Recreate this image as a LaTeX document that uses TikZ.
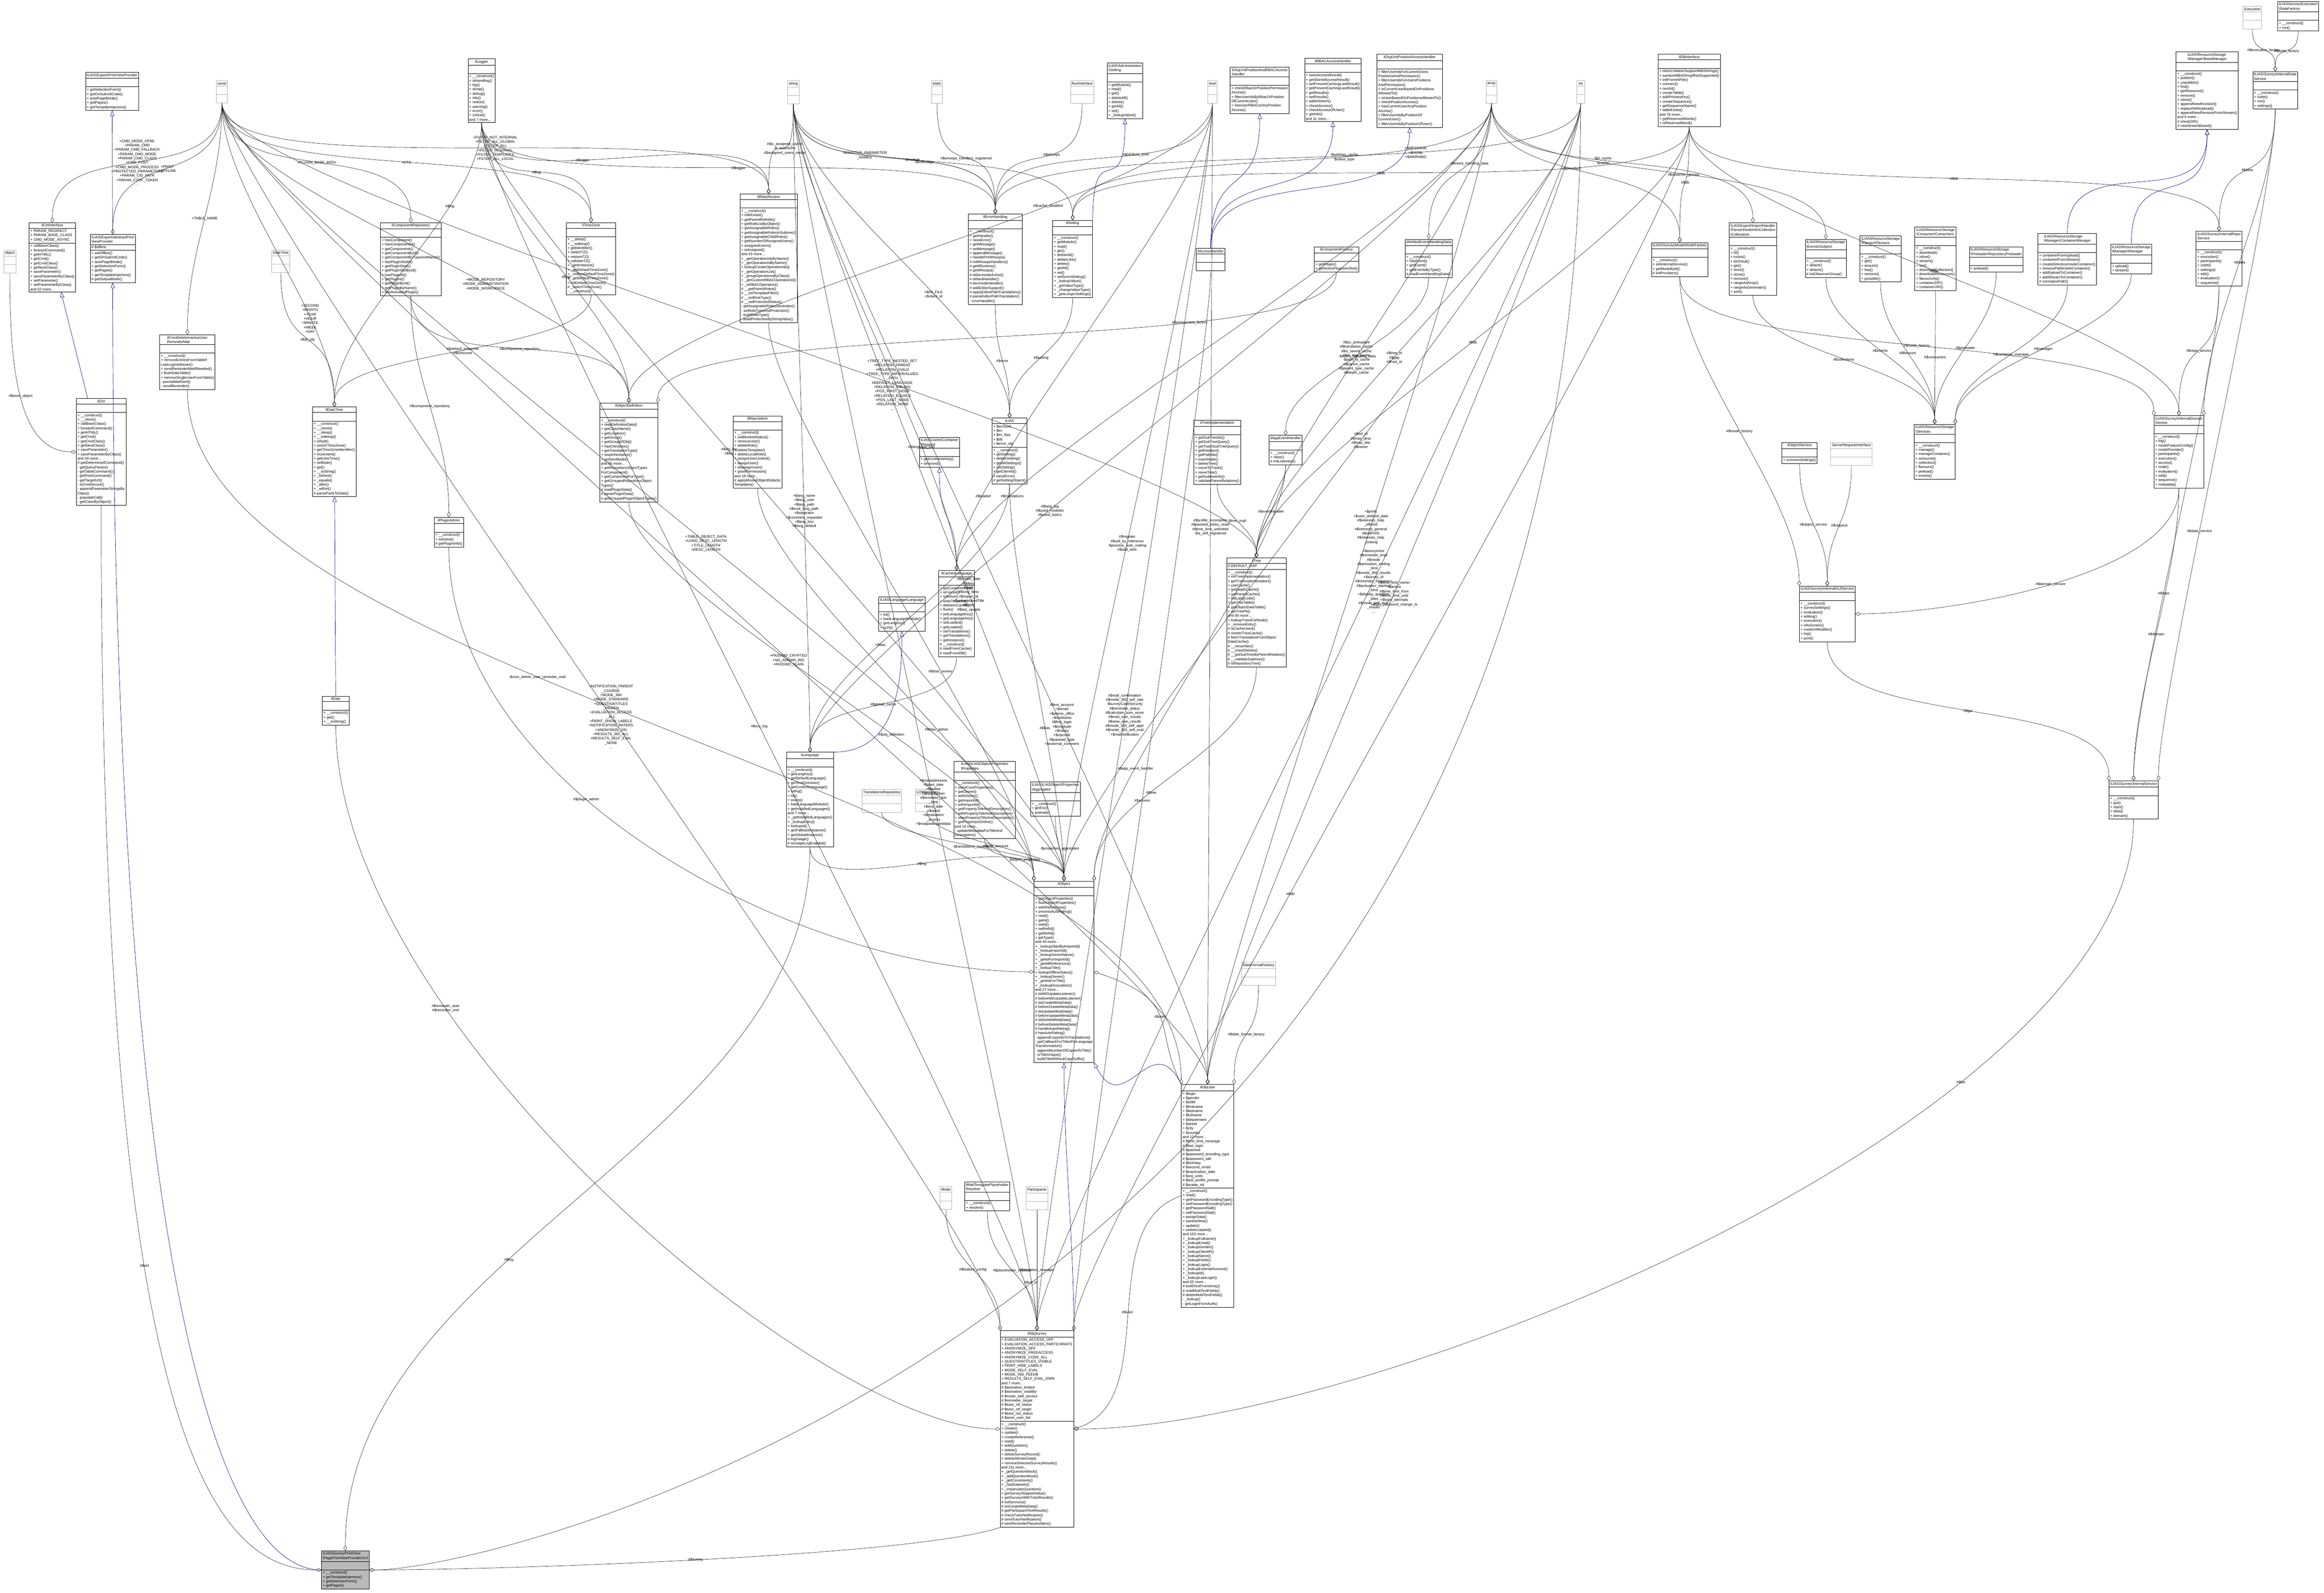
\documentclass[tikz,border=0pt]{standalone}
\usepackage{fontspec}
\setmainfont{Liberation Sans}
\usepackage{tikz}
\usetikzlibrary{shapes.multipart}
\usetikzlibrary{arrows.meta}
\newcommand{\bs}{\textbackslash{}}
\newcommand{\dxfont}{\fontsize{3.5}{4.15}\selectfont}
\tikzset{every text node part/.style={font=\dxfont}, every two node part/.style={font=\dxfont}, every three node part/.style={font=\dxfont}}
\tikzstyle{cls} = [rectangle split, rectangle split parts=3, draw, line width=0.35pt, anchor=north, align=left, inner sep=1.2pt, font=\dxfont, rectangle split part align={center,left,left}, rectangle split empty part height=2.5pt, fill=white]
\tikzstyle{ext} = [cls, draw=gray!60]
\tikzstyle{uses} = [draw=black!85, line width=0.3pt, -{Diamond[open,length=5pt,width=3.5pt]}]
\tikzstyle{inh} = [draw=blue!50!black, line width=0.3pt, {Triangle[open,length=5pt,width=4pt]}-]
\tikzstyle{lbl} = [align=center, inner sep=0.5pt, font=\dxfont]

\begin{document}
\begin{tikzpicture}
  \useasboundingbox (0,0) rectangle (78.13,-53.56);

  % top row: plain types
  \node[ext] (constT) at (7.46,-2.71) {const \nodepart{two} \nodepart{three}};
  \node[ext] (string) at (26.67,-2.71) {string \nodepart{two} \nodepart{three}};
  \node[ext] (static) at (31.50,-2.71) {static \nodepart{two} \nodepart{three}};
  \node[ext] (runIf) at (36.38,-2.71) {RunInterface \nodepart{two} \nodepart{three}};
  \node[ext] (boolT) at (40.76,-2.71) {bool \nodepart{two} \nodepart{three}};
  \node[ext] (arrayT) at (50.14,-2.71) {array \nodepart{two} \nodepart{three}};
  \node[ext] (intT) at (53.14,-2.71) {int \nodepart{two} \nodepart{three}};
  \node[ext] (execT) at (75.72,-0.21) {Execution \nodepart{two} \nodepart{three}};
  \node[ext] (objectT) at (0.33,-8.40) {object \nodepart{two} \nodepart{three}};
  \node[ext] (dateTimeT) at (9.44,-8.40) {DateTime \nodepart{two} \nodepart{three}};

  % top row: classes
  \node[cls] (printProv) at (3.77,-2.42) {ILIAS\bs Export\bs PrintViewProvider \nodepart{two} \nodepart{three} + getSelectionForm()\\+ getOnSubmitCode()\\+ autoPageBreak()\\+ getPages()\\+ getTemplateInjectors()};
  \node[cls] (logger) at (16.19,-1.97) {ilLogger \nodepart{two} \nodepart{three} + \_\_construct()\\+ isHandling()\\+ log()\\+ dump()\\+ debug()\\+ info()\\+ notice()\\+ warning()\\+ error()\\+ critical()\\and 7 more...};
  \node[cls] (admSetting) at (37.82,-2.11) {ILIAS\bs Administration\\\bs Setting \nodepart{two} \nodepart{three} + getModule()\\+ read()\\+ get()\\+ deleteAll()\\+ delete()\\+ getAll()\\+ set()\\+ \_lookupValue()};
  \node[cls] (orgRbac) at (42.35,-2.25) {ilOrgUnitPositionAndRBACAccess\\Handler \nodepart{two} \nodepart{three} + checkRbacOrPositionPermission\\Access()\\+ filterUserIdsByRbacOrPosition\\OfCurrentUser()\\+ hasUserRBACorAnyPosition\\Access()};
  \node[cls] (rbacAcc) at (44.81,-1.96) {ilRBACAccessHandler \nodepart{two} \nodepart{three} + storeAccessResult()\\+ getStoredAccessResult()\\+ setPreventCachingLastResult()\\+ getPreventCachingLastResult()\\+ getResults()\\+ setResults()\\+ addInfoItem()\\+ checkAccess()\\+ checkAccessOfUser()\\+ getInfo()\\and 11 more...};
  \node[cls] (orgAcc) at (47.39,-1.82) {ilOrgUnitPositionAccessHandler \nodepart{two} \nodepart{three} + filterUserIdsForCurrentUsers\\PositionsAndPermission()\\+ filterUserIdsForUsersPositions\\AndPermission()\\+ isCurrentUserBasedOnPositions\\AllowedTo()\\+ isUserBasedOnPositionsAllowedTo()\\+ checkPositionAccess()\\+ hasCurrentUserAnyPosition\\Access()\\+ filterUserIdsByPositionOf\\CurrentUser()\\+ filterUserIdsByPositionOfUser()};
  \node[cls] (dbIf) at (56.79,-1.82) {ilDBInterface \nodepart{two} \nodepart{three} + doesCollationSupportMB4Strings()\\+ sanitizeMB4StringIfNotSupported()\\+ initFromIniFile()\\+ connect()\\+ nextId()\\+ createTable()\\+ addPrimaryKey()\\+ createSequence()\\+ getSequenceName()\\+ tableExists()\\and 78 more...\\+ getReservedWords()\\+ isReservedWord()};
  \node[cls] (baseMgr) at (74.20,-1.74) {ILIAS\bs ResourceStorage\\\bs Manager\bs BaseManager \nodepart{two} \nodepart{three} + \_\_construct()\\+ publish()\\+ unpublish()\\+ find()\\+ getResource()\\+ remove()\\+ clone()\\+ appendNewRevision()\\+ replaceWithUpload()\\+ appendNewRevisionFromStream()\\and 6 more...\\\# checkZIP()\\\# newStreamBased()};
  \node[cls] (dataFac) at (77.26,-0.04) {ILIAS\bs Survey\bs Execution\\\bs DataFactory \nodepart{two} \nodepart{three} + \_\_construct()\\+ run()};
  \node[cls] (dataSrv) at (76.49,-2.40) {ILIAS\bs Survey\bs InternalData\\Service \nodepart{two} \nodepart{three} + \_\_construct()\\+ code()\\+ run()\\+ settings()};

  % second row
  \node[cls] (ctrlIf) at (1.76,-7.48) {ilCtrlInterface \nodepart{two} + PARAM\_REDIRECT\\+ PARAM\_BASE\_CLASS\\+ CMD\_MODE\_ASYNC \nodepart{three} + callBaseClass()\\+ forwardCommand()\\+ getHTML()\\+ getCmd()\\+ getCmdClass()\\+ getNextClass()\\+ saveParameter()\\+ saveParameterByClass()\\+ setParameter()\\+ setParameterByClass()\\and 52 more...};
  \node[cls] (absPrint) at (3.79,-7.88) {ILIAS\bs Export\bs AbstractPrint\\ViewProvider \nodepart{two} \# \$offline \nodepart{three} + setOffline()\\+ getOnSubmitCode()\\+ autoPageBreak()\\+ getSelectionForm()\\+ getPages()\\+ getTemplateInjectors()\\\# getOutputMode()};
  \node[cls] (compRepo) at (13.81,-7.48) {ilComponentRepository \nodepart{two} \nodepart{three} + hasComponent()\\+ hasComponentId()\\+ getComponents()\\+ getComponentById()\\+ getComponentByTypeAndName()\\+ hasPluginSlotId()\\+ getPluginSlots()\\+ getPluginSlotById()\\+ hasPluginId()\\+ getPlugins()\\+ getPluginById()\\+ getPluginByName()\\+ hasActivatedPlugin()};
  \node[cls] (timeZone) at (19.87,-7.48) {ilTimeZone \nodepart{two} \nodepart{three} + \_\_sleep()\\+ \_\_wakeup()\\+ getIdentifier()\\+ switchTZ()\\+ restoreTZ()\\+ validateTZ()\\+ \_getInstance()\\+ \_setDefaultTimeZone()\\+ \_restoreDefaultTimeZone()\\+ \_getDefaultTimeZone()\\+ initDefaultTimeZone()\\\# \_switchTimeZone()\\- \_\_construct()};
  \node[cls] (rbacReview) at (25.84,-6.52) {ilRbacReview \nodepart{two} \nodepart{three} + \_\_construct()\\+ roleExists()\\+ getParentRoleIds()\\+ getRoleListByObject()\\+ getAssignableRoles()\\+ getAssignableRolesInSubtree()\\+ getAssignableChildRoles()\\+ getNumberOfAssignedUsers()\\+ assignedUsers()\\+ isAssigned()\\and 43 more...\\+ \_getOperationIdsByName()\\+ \_getOperationIdByName()\\+ lookupCreateOperationIds()\\+ \_getOperationList()\\+ \_groupOperationsByClass()\\+ \_getCustomRBACOperationId()\\+ \_isRBACOperation()\\\# \_\_getParentRoles()\\\# \_\_setTemplateFilter()\\\# \_\_setRoleType()\\\# \_\_setProtectedStatus()\\- getAssignableRolesGenerator()\\- setRoleTypeAndProtection()\\- buildRoleType()\\- buildProtectionByStringValue()};
  \node[cls] (errHandling) at (33.46,-7.19) {ilErrorHandling \nodepart{two} \nodepart{three} + \_\_construct()\\+ getHandler()\\+ raiseError()\\+ getMessage()\\+ setMessage()\\+ appendMessage()\\+ handlePreWhoops()\\\# initWhoopsHandlers()\\\# getIlRuntime()\\\# getWhoops()\\\# isDevmodeActive()\\\# defaultHandler()\\\# devmodeHandler()\\\# addEditorSupport()\\\# applyEditorPathTranslations()\\\# parseEditorPathTranslation()\\- errorHandler()};
  \node[cls] (setting) at (36.06,-7.40) {ilSetting \nodepart{two} \nodepart{three} + \_\_construct()\\+ getModule()\\+ read()\\+ get()\\+ deleteAll()\\+ deleteLike()\\+ delete()\\+ getAll()\\+ set()\\+ setScormDebug()\\+ \_lookupValue()\\+ \_getValueType()\\+ \_changeValueType()\\+ \_getLongerSettings()};
  \node[cls] (accHandler) at (40.70,-8.35) {ilAccessHandler \nodepart{two} \nodepart{three}};
  \node[cls] (compFactory) at (44.93,-8.29) {ilComponentFactory \nodepart{two} \nodepart{three} + getPlugin()\\+ getActivePluginsInSlot()};
  \node[cls] (artEvent) at (48.03,-8.04) {ilArtifactEventHandlingData \nodepart{two} \nodepart{three} + \_\_construct()\\+ hasEvent()\\+ getEvent()\\+ getEventsByType()\\\# readEventHandlingData()};
  \node[cls] (modeFac) at (56.47,-8.15) {ILIAS\bs Survey\bs Mode\bs ModeFactory \nodepart{two} \nodepart{three} + \_\_construct()\\+ setInternalService()\\+ getModeById()\\\# initProviders()};
  \node[cls] (collections) at (58.93,-7.49) {ILIAS\bs Export\bs ImportHandler\\\bs Parser\bs NodeInfo\bs Collection\\\bs Collections \nodepart{two} \nodepart{three} + \_\_construct()\\+ id()\\+ exists()\\+ idOrNull()\\+ get()\\+ store()\\+ clone()\\+ remove()\\+ rangeAsArray()\\+ rangeAsGenerator()\\+ sort()};
  \node[cls] (evSubject) at (61.38,-8.04) {ILIAS\bs ResourceStorage\\\bs Events\bs Subject \nodepart{two} \nodepart{three} + \_\_construct()\\+ attach()\\+ detach()\\\# initObserverGroup()};
  \node[cls] (favours) at (63.22,-7.92) {ILIAS\bs ResourceStorage\\\bs Flavour\bs Flavours \nodepart{two} \nodepart{three} + \_\_construct()\\+ get()\\+ ensure()\\+ has()\\+ remove()\\+ possible()};
  \node[cls] (consumers) at (65.07,-7.63) {ILIAS\bs ResourceStorage\\\bs Consumer\bs Consumers \nodepart{two} \nodepart{three} + \_\_construct()\\+ download()\\+ inline()\\+ stream()\\+ src()\\+ downloadCollection()\\+ downloadResources()\\+ flavourUrls()\\+ containerZIP()\\+ containerURI()};
  \node[cls] (preloader) at (67.11,-8.29) {ILIAS\bs ResourceStorage\\\bs Preloader\bs RepositoryPreloader \nodepart{two} \nodepart{three} + preload()};
  \node[cls] (contMgr) at (69.50,-7.85) {ILIAS\bs ResourceStorage\\\bs Manager\bs ContainerManager \nodepart{two} \nodepart{three} + containerFromUpload()\\+ containerFromStream()\\+ createDirectoryInsideContainer()\\+ removePathInsideContainer()\\+ addUploadToContainer()\\+ addStreamToContainer()\\\# normalizePath()};
  \node[cls] (manager) at (71.65,-8.21) {ILIAS\bs ResourceStorage\\\bs Manager\bs Manager \nodepart{two} \nodepart{three} + upload()\\+ stream()};
  \node[cls] (repoSrv) at (74.60,-7.77) {ILIAS\bs Survey\bs InternalRepo\\Service \nodepart{two} \nodepart{three} + \_\_construct()\\+ execution()\\+ participants()\\+ code()\\+ settings()\\+ edit()\\+ evaluation()\\+ sequence()};

  % third row
  \node[cls] (cronMail) at (6.30,-11.25) {ilCronDeleteInactiveUser\\ReminderMail \nodepart{two} \nodepart{three} + \_\_construct()\\+ removeEntriesFromTableIf\\LastLoginIsNewer()\\+ sendReminderMailIfNeeded()\\+ flushDataTable()\\+ removeSingleUserFromTable()\\- persistMailSent()\\- sendReminder()};
  \node[cls] (ctrl) at (3.40,-13.39) {ilCtrl \nodepart{two} \nodepart{three} + \_\_construct()\\+ \_\_clone()\\+ callBaseClass()\\+ forwardCommand()\\+ getHTML()\\+ getCmd()\\+ getCmdClass()\\+ getNextClass()\\+ saveParameter()\\+ saveParameterByClass()\\and 34 more...\\\# getDeterminedCommand()\\- getQueryParam()\\- getTableCommand()\\- getPostCommand()\\- getTargetUrl()\\- isCmdSecure()\\- appendParameterStringsBy\\Class()\\- populateCall()\\- getClassByObject()};
  \node[cls] (ilDateTime) at (11.24,-13.68) {ilDateTime \nodepart{two} \nodepart{three} + \_\_construct()\\+ \_\_clone()\\+ \_\_sleep()\\+ \_\_wakeup()\\+ isNull()\\+ switchTimeZone()\\+ getTimeZoneIdentifier()\\+ increment()\\+ getUnixTime()\\+ setDate()\\+ get()\\+ \_\_toString()\\+ \_before()\\+ \_equals()\\+ \_after()\\+ \_within()\\\# parsePartsToDate()};
  \node[cls] (pluginAdmin) at (15.09,-17.39) {ilPluginAdmin \nodepart{two} \nodepart{three} + \_\_construct()\\+ isActive()\\\# getPluginInfo()};
  \node[cls] (objDef) at (21.14,-13.54) {ilObjectDefinition \nodepart{two} \nodepart{three} + \_\_construct()\\+ readDefinitionData()\\+ getClassName()\\+ getLocation()\\+ getGroup()\\+ getGroupOfObj()\\+ hasCheckbox()\\+ getTranslationType()\\+ stopInheritance()\\+ getDevMode()\\and 86 more...\\+ getRepositoryObjectTypes\\ForComponent()\\+ getComponentForType()\\+ getGroupedRepositoryObject\\Types()\\\# readPluginData()\\\# parsePluginData()\\\# getGroupedPluginObjectTypes()};
  \node[cls] (rbacAdmin) at (25.47,-13.98) {ilRbacAdmin \nodepart{two} \nodepart{three} + \_\_construct()\\+ setBlockedStatus()\\+ removeUser()\\+ deleteRole()\\+ deleteTemplate()\\+ deleteLocalRole()\\+ assignUserLimited()\\+ assignUser()\\+ deassignUser()\\+ grantPermission()\\and 18 more...\\\# applyMovedObjectDidactic\\Templates()};
  \node[cls] (ilDate) at (11.29,-23.40) {ilDate \nodepart{two} \nodepart{three} + \_\_construct()\\+ get()\\+ \_\_toString()};
  \node[cls] (cacheReq) at (31.58,-14.70) {ILIAS\bs Cache\bs Container\\\bs Request \nodepart{two} \nodepart{three} + getContainerKey()\\+ isForced()};
  \node[cls] (ilias) at (33.94,-14.05) {ILIAS \nodepart{two} + \$account\\+ \$ini\\+ \$ini\_ilias\\+ \$db\\+ \$error\_obj \nodepart{three} + \_\_construct()\\+ getSetting()\\+ deleteSetting()\\+ getAllSettings()\\+ setSetting()\\+ getClientId()\\+ raiseError()\\\# getSettingObject()};
  \node[cls] (treeImpl) at (40.92,-14.12) {ilTreeImplementation \nodepart{two} \nodepart{three} + getSubTreeIds()\\+ getSubTreeQuery()\\+ getTrashSubTreeQuery()\\+ getRelation()\\+ getPathIds()\\+ insertNode()\\+ deleteTree()\\+ moveToTrash()\\+ moveTree()\\+ getSubtreeInfo()\\+ validateParentRelations()};
  \node[cls] (appEvent) at (43.22,-14.63) {ilAppEventHandler \nodepart{two} \nodepart{three} + \_\_construct()\\+ raise()\\\# initListeners()};
  \node[cls] (objSrv) at (60.50,-14.87) {ilObjectService \nodepart{two} \nodepart{three} + commonSettings()};
  \node[ext] (srvReq) at (62.24,-14.87) {ServerRequestInterface \nodepart{two} \nodepart{three}};
  \node[cls] (rsServices) at (65.04,-14.26) {ILIAS\bs ResourceStorage\\\bs Services \nodepart{two} \nodepart{three} + \_\_construct()\\+ manage()\\+ manageContainer()\\+ consume()\\+ collection()\\+ flavours()\\+ preload()\\+ events()};
  \node[cls] (domainSrv) at (73.25,-13.97) {ILIAS\bs Survey\bs InternalDomain\\Service \nodepart{two} \nodepart{three} + \_\_construct()\\+ log()\\+ modeFeatureConfig()\\+ modeProvider()\\+ participants()\\+ execution()\\+ access()\\+ code()\\+ evaluation()\\+ edit()\\+ sequence()\\+ metadata()};

  % fourth row
  \node[cls] (ilTree) at (42.24,-18.75) {ilTree \nodepart{two} \# DEFAULT\_GAP \nodepart{three} + \_\_construct()\\+ initTreeImplementation()\\+ getTreeImplementation()\\+ useCache()\\+ getDepthCache()\\+ getParentCache()\\+ initLangCode()\\+ getTreeTable()\\+ getObjectDataTable()\\+ getTreePk()\\and 80 more...\\+ lookupTreesForNode()\\+ \_removeEntry()\\\# isCacheUsed()\\\# resetInTreeCache()\\\# fetchTranslationFromObject\\DataCache()\\\# \_\_renumber()\\\# \_\_checkDelete()\\\# \_\_getSubTreeByParentRelation()\\\# \_\_validateSubtrees()\\\# isRepositoryTree()};
  \node[cls] (cachedLang) at (32.16,-19.18) {ilCachedLanguage \nodepart{two} \nodepart{three} + getContainerKey()\\+ isForced()\\+ isActive()\\+ writeToCache()\\+ deleteInCache()\\+ flush()\\+ setLanguageKey()\\+ getLanguageKey()\\+ setLoaded()\\+ getLoaded()\\+ setTranslations()\\+ getTranslations()\\+ getInstance()\\\# \_\_construct()\\\# readFromCache()\\\# readFromDB()};
  \node[cls] (langLang) at (30.32,-20.07) {ILIAS\bs Language\bs Language \nodepart{two} \nodepart{three} + txt()\\+ loadLanguageModule()\\+ getLangKey()\\+ toJS()};
  \node[cls] (guiSrv) at (61.43,-19.70) {ILIAS\bs Survey\bs InternalGUIService \nodepart{two} \nodepart{three} + \_\_construct()\\+ surveySettings()\\+ evaluation()\\+ editing()\\+ execution()\\+ infoScreen()\\+ modeUIModifier()\\+ lng()\\+ print()};

  % lower part
  \node[cls] (ilLanguage) at (27.23,-25.29) {ilLanguage \nodepart{two} \nodepart{three} + \_\_construct()\\+ getLangKey()\\+ getDefaultLanguage()\\+ getTextDirection()\\+ getContentLanguage()\\+ txtlng()\\+ txt()\\+ exists()\\+ loadLanguageModule()\\+ getInstalledLanguages()\\and 7 more...\\+ \_getInstalledLanguages()\\+ \_lookupEntry()\\+ lookupId()\\+ getFallbackInstance()\\+ getGlobalInstance()\\\# logUsage()\\\# isUsageLogEnabled()};
  \node[ext] (transRepo) at (29.64,-26.53) {TranslationsRepository \nodepart{two} \nodepart{three}};
  \node[ext] (lomSrv) at (31.18,-26.53) {LOMServices \nodepart{two} \nodepart{three}};
  \node[cls] (props) at (33.10,-25.59) {ILIAS\bs ILIASObject\bs Properties\\\bs Properties \nodepart{two} \nodepart{three} + \_\_construct()\\+ storeCoreProperties()\\+ getOwner()\\+ withOwner()\\+ getImportId()\\+ withImportId()\\+ getPropertyTitleAndDescription()\\+ withPropertyTitleAndDescription()\\+ storePropertyTitleAndDescription()\\+ getPropertyIsOnline()\\and 16 more...\\- updateMetadataForTitleAnd\\Description()};
  \node[cls] (aggr) at (35.48,-26.29) {ILIAS\bs ILIASObject\bs Properties\\\bs Aggregator \nodepart{two} \nodepart{three} + \_\_construct()\\+ getFor()\\+ preload()};
  \node[cls] (internalSrv) at (71.73,-26.25) {ILIAS\bs Survey\bs InternalService \nodepart{two} \nodepart{three} + \_\_construct()\\+ gui()\\+ repo()\\+ data()\\+ domain()};
  \node[cls] (ilObject) at (35.77,-29.62) {ilObject \nodepart{two} \nodepart{three} + getObjectProperties()\\+ flushObjectProperties()\\+ withReferences()\\+ processAutoRating()\\+ read()\\+ getId()\\+ setId()\\+ setRefId()\\+ getRefId()\\+ getType()\\and 40 more...\\+ \_lookupObjIdByImportId()\\+ \_lookupImportId()\\+ \_lookupOwnerName()\\+ \_getIdForImportId()\\+ \_getAllReferences()\\+ \_lookupTitle()\\+ lookupOfflineStatus()\\+ \_lookupOwner()\\+ \_getIdsForTitle()\\+ \_lookupDescription()\\and 27 more...\\\# doMDUpdateListener()\\\# beforeMDUpdateListener()\\\# doCreateMetaData()\\\# beforeCreateMetaData()\\\# doUpdateMetaData()\\\# beforeUpdateMetaData()\\\# doDeleteMetaData()\\\# beforeDeleteMetaData()\\\# handleAutoRating()\\\# hasAutoRating()\\- appendCopyInfoToTranslations()\\- getCallbackForTitlesPerLanguage\\Transformation()\\- appendNumberOfCopiesToTitle()\\- isTitleUnique()\\- buildTitleWithoutCopySuffix()};
  \node[ext] (dateFmt) at (42.31,-32.35) {DateFormatFactory \nodepart{two} \nodepart{three}};
  \node[cls] (objUser) at (40.60,-36.46) {ilObjUser \nodepart{two} + \$login\\+ \$gender\\+ \$utitle\\+ \$firstname\\+ \$lastname\\+ \$fullname\\+ \$department\\+ \$street\\+ \$city\\+ \$country\\and 12 more...\\\# \$time\_limit\_message\\\# \$last\_login\\\# \$passwd\\\# \$password\_encoding\_type\\\# \$password\_salt\\\# \$birthday\\\# \$second\_email\\\# \$inactivation\_date\\\# \$org\_units\\\# \$last\_profile\_prompt\\\# \$avatar\_rid \nodepart{three} + \_\_construct()\\+ read()\\+ getPasswordEncodingType()\\+ setPasswordEncodingType()\\+ getPasswordSalt()\\+ setPasswordSalt()\\+ assignData()\\+ saveAsNew()\\+ update()\\+ writeAccepted()\\and 163 more...\\+ \_lookupFullname()\\+ \_lookupEmail()\\+ \_lookupGender()\\+ \_lookupClientIP()\\+ \_lookupName()\\+ \_lookupFields()\\+ \_lookupLogin()\\+ \_lookupExternalAccount()\\+ \_lookupId()\\+ \_lookupLastLogin()\\and 62 more...\\\# buildTextFromArray()\\\# readMultiTextFields()\\\# deleteMultiTextFields()\\- \_lookup()\\- getLoginFromAuth()};
  \node[ext] (modeT) at (31.80,-39.90) {Mode \nodepart{two} \nodepart{three}};
  \node[cls] (resolver) at (33.19,-39.74) {ilMailTemplatePlaceholder\\Resolver \nodepart{two} \nodepart{three} + \_\_construct()\\+ resolve()};
  \node[ext] (partT) at (34.86,-39.90) {Participants \nodepart{two} \nodepart{three}};
  \node[cls] (objSurvey) at (34.86,-44.74) {ilObjSurvey \nodepart{two} + EVALUATION\_ACCESS\_OFF\\+ EVALUATION\_ACCESS\_PARTICIPANTS\\+ ANONYMIZE\_OFF\\+ ANONYMIZE\_FREEACCESS\\+ ANONYMIZE\_CODE\_ALL\\+ QUESTIONTITLES\_VISIBLE\\+ PRINT\_HIDE\_LABELS\\+ MODE\_SELF\_EVAL\\+ MODE\_IND\_FEEDB\\+ RESULTS\_SELF\_EVAL\_OWN\\and 7 more...\\\# \$activation\_limited\\\# \$activation\_visibility\\\# \$mode\_skill\_service\\\# \$reminder\_target\\\# \$tutor\_ntf\_status\\\# \$tutor\_ntf\_target\\\# \$tutor\_res\_status\\\# \$anon\_user\_list \nodepart{three} + \_\_construct()\\+ create()\\+ update()\\+ createReference()\\+ read()\\+ addQuestion()\\+ delete()\\+ deleteSurveyRecord()\\+ deleteAllUserData()\\+ removeSelectedSurveyResults()\\and 211 more...\\+ \_getQuestionblock()\\+ \_addQuestionblock()\\+ \_getConstraints()\\+ \_hasDatasets()\\+ \_instanciateQuestion()\\+ getSurveySkippedValue()\\+ getSurveysWithTutorResults()\\\# initServices()\\\# doCreateMetaData()\\\# getParticipantTextResults()\\\# checkTutorNotification()\\\# sendTutorNotification()\\\# sentReminderPlaceholders()};
  \node[cls, fill=gray!55] (printGUI) at (11.61,-52.14) {ILIAS\bs Survey\bs PrintView\\\bs PagePrintViewProviderGUI \nodepart{two} \nodepart{three} + \_\_construct()\\+ getTemplateInjectors()\\+ getSelectionForm()\\+ getPages()};

  % inheritance
  \draw[inh] (printProv) -- (absPrint);
  \draw[inh] (absPrint.south) .. controls +(0,-30) and +(-4,0) .. (printGUI.west);
  \draw[inh] (ctrlIf) -- (ctrl);
  \draw[inh] (ilDateTime) -- (ilDate);
  \draw[inh] (admSetting.south) .. controls +(0,-3) and +(0,3) .. (setting.north east);
  \draw[inh] (orgRbac.south) .. controls +(0,-3) and +(0,3) .. (accHandler.north);
  \draw[inh] (rbacAcc.south) .. controls +(0,-3) and +(0,3) .. (accHandler.north);
  \draw[inh] (orgAcc.south) .. controls +(0,-3) and +(0,3) .. (accHandler.north);
  \draw[inh] (cacheReq.south) .. controls +(0,-2) and +(0,2) .. (cachedLang.north);
  \draw[inh] (langLang.south) .. controls +(0,-2) and +(2,0) .. (ilLanguage.north east);
  \draw[inh] (baseMgr.south) .. controls +(0,-3) and +(0,3) .. (contMgr.north);
  \draw[inh] (baseMgr.south) .. controls +(0,-3) and +(0,3) .. (manager.north);
  \draw[inh] (ilObject.south) .. controls +(0,-3) and +(0,3) .. (objSurvey.north east);
  \draw[inh] (ilObject.south east) .. controls +(1,-2) and +(-1,2) .. (objUser.north west);

  % const members
  \draw[uses] (constT.south) .. controls +(0,-3) and +(0,3) .. node[lbl]{+CMD\_MODE\_HTML\\+PARAM\_CMD\\+PARAM\_CMD\_FALLBACK\\+PARAM\_CMD\_MODE\\+PARAM\_CMD\_CLASS\\+CMD\_POST\\+CMD\_MODE\_PROCESS\\+PROTECTED\_PARAMETERS\\+PARAM\_CID\_PATH\\+PARAM\_CSRF\_TOKEN\\...} (ctrlIf.north);
  \draw[uses] (constT.south) .. controls +(0,-3) and +(0,3) .. node[lbl]{+PRINT\\+OFFLINE} (absPrint.north);
  \draw[uses] (constT.south) .. controls +(0,-3) and +(0,3) .. node[lbl]{+TABLE\_NAME} (cronMail.north);
  \draw[uses] (constT.south) .. controls +(0,-3) and +(0,3) .. node[lbl]{+PLUGIN\_BASE\_PATH} (compRepo.north);
  \draw[uses] (constT.south) .. controls +(0,-3) and +(0,3) .. node[lbl]{+UTC} (timeZone.north);
  \draw[uses] (constT.south) .. controls +(0,-3) and +(0,3) .. node[lbl, pos=0.7]{+SECOND\\+MONTH\\+YEAR\\+HOUR\\+MINUTE\\+WEEK\\+DAY} (ilDateTime.north);
  \draw[uses] (constT.south) .. controls +(0,-3) and +(0,3) .. node[lbl, pos=0.5]{+FILTER\_NOT\_INTERNAL\\+FILTER\_ALL\_GLOBAL\\+FILTER\_ALL\\+FILTER\_INTERNAL\\+FILTER\_TEMPLATES\\+FILTER\_ALL\_LOCAL} (rbacReview.north);
  \draw[uses] (constT.south) .. controls +(0,-3) and +(0,3) .. node[lbl, pos=0.6]{+MODE\_REPOSITORY\\+MODE\_ADMINISTRATION\\+MODE\_WORKSPACE} (objDef.north);
  \draw[uses] (constT.south) .. controls +(0,-3) and +(0,3) .. node[lbl, pos=0.6]{+TREE\_TYPE\_NESTED\_SET\\+RELATION\_PARENT\\+RELATION\_CHILD\\+TREE\_TYPE\_MATERIALIZED\\\_PATH\\\#DEFAULT\_LANGUAGE\\+RELATION\_SIBLING\\+POS\_FIRST\_NODE\\+RELATION\_EQUALS\\+POS\_LAST\_NODE\\+RELATION\_NONE\\...} (ilTree.north);
  \draw[uses] (constT.south) .. controls +(0,-3) and +(0,3) .. node[lbl, pos=0.55]{+TABLE\_OBJECT\_DATA\\+LONG\_DESC\_LENGTH\\+TITLE\_LENGTH\\+DESC\_LENGTH} (ilObject.north);
  \draw[uses] (constT.south) .. controls +(0,-3) and +(0,3) .. node[lbl, pos=0.55]{+PASSWD\_CRYPTED\\+NO\_AVATAR\_RID\\+PASSWD\_PLAIN} (objUser.north);
  \draw[uses] (constT.south) .. controls +(0,-3) and +(0,3) .. node[lbl, pos=0.5]{+NOTIFICATION\_PARENT\\\_COURSE\\+MODE\_360\\+MODE\_STANDARD\\+QUESTIONTITLES\\\_HIDDEN\\+EVALUATION\_ACCESS\\\_ALL\\+PRINT\_SHOW\_LABELS\\+NOTIFICATION\_RATERS\\+ANONYMIZE\_ON\\+RESULTS\_360\_ALL\\+RESULTS\_SELF\_EVAL\\\_NONE\\...} (objSurvey.north west);

  % logger
  \draw[uses] (logger.south) .. controls +(0,-3) and +(0,3) .. node[lbl]{\#\$log} (timeZone.north);
  \draw[uses] (logger.south) .. controls +(0,-3) and +(0,3) .. node[lbl, pos=0.3]{\#\$log} (ilDateTime.north);
  \draw[uses] (logger.south) .. controls +(0,-3) and +(0,3) .. node[lbl, pos=0.4]{\#\$logger} (rbacReview.north);
  \draw[uses] (logger.south) .. controls +(0,-3) and +(0,3) .. node[lbl, pos=0.5]{\#\$logger} (errHandling.north);
  \draw[uses] (logger.south) .. controls +(0,-3) and +(0,3) .. node[lbl, pos=0.55]{\#\$log} (objDef.north);
  \draw[uses] (logger.south) .. controls +(0,-3) and +(0,3) .. node[lbl, pos=0.45]{\#\$obj\_log\\\#\$log} (ilObject.north);
  \draw[uses] (logger.south) .. controls +(0,-3) and +(0,3) .. node[lbl, pos=0.5]{\#\$svy\_log} (objSurvey.north);

  % plain types
  \draw[uses] (objectT.south) .. controls +(0,-3) and +(-2,0) .. node[lbl]{\#\$exec\_object} (ctrl.west);
  \draw[uses] (dateTimeT.south) .. controls +(0,-3) and +(0,3) .. node[lbl]{\#\$dt\_obj} (ilDateTime.north);
  \draw[uses] (string.south) .. controls +(0,-3) and +(0,3) .. node[lbl, pos=0.4]{\#\$is\_assigned\_cache\\-\$\_opsCache\\\#\$assigned\_users\_cache} (rbacReview.north);
  \draw[uses] (string.south) .. controls +(0,-3) and +(0,3) .. node[lbl, pos=0.4]{-SENSITIVE\_PARAMETER\\\_NAMES} (errHandling.north);
  \draw[uses] (string.south) .. controls +(0,-3) and +(0,3) .. node[lbl, pos=0.6]{\#\$message} (errHandling.north);
  \draw[uses] (static.south) .. controls +(0,-3) and +(0,3) .. node[lbl, pos=0.5]{\#\$whoops\_handlers\_registered} (errHandling.north);
  \draw[uses] (string.south) .. controls +(0,-3) and +(0,3) .. node[lbl, pos=0.45]{-\$module} (setting.north);
  \draw[uses] (arrayT.south) .. controls +(0,-3) and +(0,3) .. node[lbl, pos=0.4]{-\$settings\_cache\\-\$value\_type} (setting.north);
  \draw[uses] (runIf.south) .. controls +(0,-3) and +(0,3) .. node[lbl, pos=0.4]{\#\$whoops} (errHandling.north);
  \draw[uses] (boolT.south) .. controls +(0,-3) and +(0,3) .. node[lbl, pos=0.4]{\#\$DEBUG\_ENV} (errHandling.north);
  \draw[uses] (boolT.south) .. controls +(0,-3) and +(0,3) .. node[lbl, pos=0.35]{\#\$cache\_disabled} (objDef.north);
  \draw[uses] (intT.south) .. controls +(0,-3) and +(0,3) .. node[lbl, pos=0.35]{+\$MESSAGE\\+\$FATAL\\+\$WARNING} (errHandling.north);
  \draw[uses] (arrayT.south) .. controls +(0,-3) and +(0,3) .. node[lbl, pos=0.4]{\#\$event\_handling\_data} (artEvent.north);
  \draw[uses] (arrayT.south) .. controls +(0,-3) and +(0,3) .. node[lbl, pos=0.45]{\#\$providers} (modeFac.north);
  \draw[uses] (arrayT.south) .. controls +(0,-3) and +(0,3) .. node[lbl, pos=0.45]{-\$id\_cache\\-\$cache} (collections.north);
  \draw[uses] (arrayT.south) .. controls +(0,-3) and +(0,3) .. node[lbl, pos=0.55]{\#\$observer\_groups} (evSubject.north);
  \draw[uses] (string.south) .. controls +(0,-3) and +(0,3) .. node[lbl, pos=0.6]{+\$INI\_FILE\\+\$client\_id} (ilias.north);
  \draw[uses] (string.south) .. controls +(0,-3) and +(0,3) .. node[lbl, pos=0.7]{\#\$language\_key} (cachedLang.north);
  \draw[uses] (arrayT.south) .. controls +(0,-3) and +(0,3) .. node[lbl, pos=0.8]{\#\$translations} (cachedLang.north);
  \draw[uses] (boolT.south) .. controls +(0,-3) and +(0,3) .. node[lbl, pos=0.8]{\#\$loaded} (cachedLang.north);
  \draw[uses] (string.south) .. controls +(0,-3) and +(0,3) .. node[lbl, pos=0.6]{+\$lang\_name\\+\$lang\_user\\+\$lang\_path\\\#\$cust\_lang\_path\\+\$separator\\+\$comment\_separator\\+\$lang\_key\\+\$lang\_default} (ilLanguage.north);
  \draw[uses] (arrayT.south) .. controls +(0,-3) and +(0,3) .. node[lbl, pos=0.6]{\#\$lang\_log\\\#\$used\_modules\\\#\$used\_topics} (ilLanguage.north);
  \draw[uses] (string.south) .. controls +(0,-3) and +(0,3) .. node[lbl, pos=0.6]{\#\$create\_date\\\#\$desc\\\#\$title\\\#\$long\_desc\\\#\$import\_id\\+\$untranslatedTitle\\\#\$type\\\#\$last\_update} (ilObject.north);
  \draw[uses] (boolT.south) .. controls +(0,-3) and +(0,3) .. node[lbl, pos=0.55]{\#\$register\\\#\$call\_by\_reference\\-\$process\_auto\_reating\\\#\$add\_dots} (ilObject.north);
  \draw[uses] (intT.south) .. controls +(0,-3) and +(0,3) .. node[lbl, pos=0.45]{\#\$ref\_id\\\#\$max\_desc\\\#\$max\_title\\\#\$owner} (ilObject.north);
  \draw[uses] (string.south) .. controls +(0,-3) and +(0,3) .. node[lbl, pos=0.6]{\#\$ext\_account\\+\$email\\+\$phone\_office\\+\$institution\\\#\$first\_login\\+\$longitude\\+\$hobby\\+\$zipcode\\\#\$passwd\_type\\+\$external\_comment\\...} (objUser.north);
  \draw[uses] (boolT.south) .. controls +(0,-3) and +(0,3) .. node[lbl, pos=0.45]{\#\$profile\_incomplete\\\#\$passwd\_policy\_reset\\\#\$time\_limit\_unlimited\\-\$is\_self\_registered} (objUser.north);
  \draw[uses] (intT.south) .. controls +(0,-3) and +(0,3) .. node[lbl, pos=0.5]{\#\$time\_limit\_owner\\+\$active\\\#\$time\_limit\_from\\\#\$time\_limit\_until\\+\$login\_attempts\\+\$last\_password\_change\_ts} (objUser.north);
  \draw[uses] (arrayT.south) .. controls +(0,-3) and +(0,3) .. node[lbl, pos=0.45]{+\$prefs\\+\$user\_defined\_data\\\#\$interests\_help\\\_offered\\\#\$interests\_general\\\#\$oldPrefs\\\#\$interests\_help\\\_looking} (objUser.north);
  \draw[uses] (string.south) .. controls +(0,-3) and +(0,3) .. node[lbl, pos=0.55]{+\$mailaddresses\\+\$start\_date\\+\$author\\+\$introduction\\\#\$reminder\_last\\\_sent\\+\$end\_date\\+\$outro\\+\$evaluation\\\_access\\+\$mailparticipantdata} (objSurvey.north);
  \draw[uses] (boolT.south) .. controls +(0,-3) and +(0,3) .. node[lbl, pos=0.5]{\#\$mail\_confirmation\\\#\$mode\_360\_self\_rate\\-\$surveyCodeSecurity\\\#\$reminder\_status\\\#\$calculate\_sum\_score\\\#\$mail\_own\_results\\\#\$view\_own\_results\\\#\$mode\_360\_self\_appr\\\#\$mode\_360\_self\_eval\\+\$mailnotification\\...} (objSurvey.north);
  \draw[uses] (intT.south) .. controls +(0,-3) and +(0,3) .. node[lbl, pos=0.42]{+\$anonymize\\\#\$reminder\_tmpl\\\#\$mode\\\#\$activation\_ending\\\_time\\\#\$mode\_360\_results\\+\$survey\_id\\\#\$reminder\_frequency\\\#\$activation\_starting\\\_time\\+\$display\_question\\\_titles\\\#\$mode\_self\_eval\\\_results\\...} (objSurvey.north);
  \draw[uses] (arrayT.south) .. controls +(0,-3) and +(0,3) .. node[lbl, pos=0.55]{\#\$oc\_preloaded\\\#\$translation\_cache\\\#\$is\_saved\_cache\\\#\$in\_tree\_cache\\-\$path\_id\_cache\\\#\$parent\_cache\\\#\$parent\_type\_cache\\\#\$depth\_cache} (ilTree.north);
  \draw[uses] (intT.south) .. controls +(0,-3) and +(0,3) .. node[lbl, pos=0.55]{\#\$tree\_id\\\#\$gap\\\#\$root\_id} (ilTree.north);
  \draw[uses] (intT.south) .. controls +(0,-40) and +(5,0) .. node[lbl, pos=0.5]{\#\$ref\_id} (printGUI.east);

  % database
  \draw[uses] (dbIf.south) .. controls +(0,-3) and +(0,3) .. node[lbl, pos=0.45]{\#\$db} (modeFac.north);
  \draw[uses] (dbIf.south) .. controls +(0,-3) and +(0,3) .. node[lbl, pos=0.5]{\#\$db} (repoSrv.north);
  \draw[uses] (dbIf.south) .. controls +(0,-3) and +(0,3) .. node[lbl, pos=0.5]{\#\$db} (setting.north);
  \draw[uses] (dbIf.south) .. controls +(0,-3) and +(0,3) .. node[lbl, pos=0.5]{\#\$db} (ilTree.north);
  \draw[uses] (dbIf.south) .. controls +(0,-3) and +(0,3) .. node[lbl, pos=0.5]{\#\$db} (domainSrv.north);
  \draw[uses] (dbIf.south) .. controls +(0,-3) and +(0,3) .. node[lbl, pos=0.6]{\#\$db} (objSurvey.north east);

  % survey services
  \draw[uses] (execT.south) .. controls +(0,-1) and +(0,1) .. node[lbl]{\#\$execution\_factory} (dataSrv.north);
  \draw[uses] (dataFac.south) .. controls +(0,-1) and +(0,1) .. node[lbl]{\#\$code\_factory} (dataSrv.north);
  \draw[uses] (dataSrv.south) .. controls +(0,-3) and +(0,3) .. node[lbl]{\#\$data} (repoSrv.north);
  \draw[uses] (dataSrv.south) .. controls +(0,-3) and +(0,3) .. node[lbl]{\#\$data} (domainSrv.north east);
  \draw[uses] (dataSrv.south) .. controls +(0,-3) and +(0,3) .. node[lbl, pos=0.6]{\#\$data\_service} (internalSrv.north east);
  \draw[uses] (repoSrv.south) .. controls +(0,-3) and +(0,3) .. node[lbl]{\#\$repo\_service} (domainSrv.north);
  \draw[uses] (repoSrv.south) .. controls +(0,-3) and +(0,3) .. node[lbl, pos=0.6]{\#\$repo} (internalSrv.north);
  \draw[uses] (modeFac.south) .. controls +(0,-3) and +(0,3) .. node[lbl, pos=0.5]{\#\$mode\_factory} (guiSrv.north west);
  \draw[uses] (modeFac.south) .. controls +(0,-3) and +(0,3) .. node[lbl, pos=0.5]{\#\$mode\_factory} (domainSrv.north west);
  \draw[uses] (objSrv.south) .. controls +(0,-2) and +(0,2) .. node[lbl]{\#\$object\_service} (guiSrv.north);
  \draw[uses] (srvReq.south) .. controls +(0,-2) and +(0,2) .. node[lbl]{\#\$request} (guiSrv.north);
  \draw[uses] (domainSrv.south) .. controls +(0,-3) and +(3,0) .. node[lbl]{\#\$domain\_service} (guiSrv.east);
  \draw[uses] (domainSrv.south) .. controls +(0,-3) and +(0,3) .. node[lbl]{\#\$domain} (internalSrv.north);
  \draw[uses] (guiSrv.south) .. controls +(0,-3) and +(0,3) .. node[lbl]{\#\$gui} (internalSrv.north west);
  \draw[uses] (internalSrv.south) .. controls +(0,-10) and +(10,0) .. node[lbl, pos=0.3]{\#\$iss} (objSurvey.east);
  \draw[uses] (collections.south) .. controls +(0,-2) and +(0,2) .. node[lbl]{\#\$collections} (rsServices.north);
  \draw[uses] (evSubject.south) .. controls +(0,-2) and +(0,2) .. node[lbl]{\#\$events} (rsServices.north);
  \draw[uses] (favours.south) .. controls +(0,-2) and +(0,2) .. node[lbl]{\#\$flavours} (rsServices.north);
  \draw[uses] (consumers.south) .. controls +(0,-2) and +(0,2) .. node[lbl]{\#\$consumers} (rsServices.north);
  \draw[uses] (preloader.south) .. controls +(0,-2) and +(0,2) .. node[lbl]{\#\$preloader} (rsServices.north);
  \draw[uses] (contMgr.south) .. controls +(0,-2) and +(0,2) .. node[lbl]{\#\$container\_manager} (rsServices.north east);
  \draw[uses] (manager.south) .. controls +(0,-2) and +(0,2) .. node[lbl]{\#\$manager} (rsServices.north east);

  % core classes
  \draw[uses] (compRepo.south) .. controls +(0,-3) and +(0,3) .. node[lbl]{\#\$component\_repository} (pluginAdmin.north);
  \draw[uses] (compRepo.south) .. controls +(0,-3) and +(0,3) .. node[lbl]{\#\$component\_repository} (objDef.north);
  \draw[uses] (compFactory.south) .. controls +(0,-3) and +(0,3) .. node[lbl, pos=0.3]{\#\$component\_factory} (objDef.north east);
  \draw[uses] (timeZone.south) .. controls +(0,-2) and +(0,2) .. node[lbl]{\#\$default\_timezone\\\#\$timezone} (ilDateTime.north);
  \draw[uses] (errHandling.south) .. controls +(0,-2) and +(0,2) .. node[lbl]{\#\$error} (ilias.north);
  \draw[uses] (setting.south) .. controls +(0,-2) and +(0,2) .. node[lbl]{\#\$setting} (ilias.north);
  \draw[uses] (artEvent.south) .. controls +(0,-2) and +(0,2) .. node[lbl]{-\$event\_handling\_data} (appEvent.north);
  \draw[uses] (treeImpl.south) .. controls +(0,-1) and +(0,1) .. node[lbl]{-\$tree\_impl} (ilTree.north);
  \draw[uses] (appEvent.south) .. controls +(0,-1) and +(0,1) .. node[lbl]{\#\$eventHandler} (ilTree.north);
  \draw[uses] (cachedLang.south) .. controls +(0,-2) and +(0,2) .. node[lbl]{\#\$global\_cache} (ilLanguage.north);
  \draw[uses] (ilias.south) .. controls +(0,-3) and +(0,3) .. node[lbl, pos=0.6]{+\$ilias} (ilLanguage.north);
  \draw[uses] (ilias.south) .. controls +(0,-3) and +(0,3) .. node[lbl, pos=0.6]{\#\$ilias} (ilObject.north);
  \draw[uses] (ilTree.south) .. controls +(0,-3) and +(0,3) .. node[lbl, pos=0.6]{\#\$tree} (ilObject.north east);
  \draw[uses] (appEvent.south) .. controls +(0,-3) and +(0,3) .. node[lbl, pos=0.7]{\#\$app\_event\_handler} (ilObject.north east);
  \draw[uses] (objDef.south) .. controls +(0,-3) and +(0,3) .. node[lbl, pos=0.6]{\#\$obj\_definition} (ilObject.north west);
  \draw[uses] (rbacReview.south) .. controls +(0,-3) and +(0,3) .. node[lbl, pos=0.6]{\#\$rbac\_review} (ilObject.north west);
  \draw[uses] (rbacAdmin.south) .. controls +(0,-3) and +(0,3) .. node[lbl, pos=0.6]{\#\$rbac\_admin} (ilObject.north west);
  \draw[uses] (pluginAdmin.south) .. controls +(0,-8) and +(-8,0) .. node[lbl, pos=0.4]{\#\$plugin\_admin} (ilObject.west);
  \draw[uses] (ilLanguage.south) .. controls +(0,-2) and +(0,2) .. node[lbl]{\#\$lng} (ilObject.north west);
  \draw[uses] (transRepo.south) .. controls +(0,-1) and +(0,1) .. node[lbl]{-\$translations\_repository} (ilObject.north);
  \draw[uses] (lomSrv.south) .. controls +(0,-1) and +(0,1) .. node[lbl]{\#\$lom\_services} (ilObject.north);
  \draw[uses] (props.south) .. controls +(0,-1) and +(0,1) .. node[lbl]{-\$object\_properties} (ilObject.north);
  \draw[uses] (aggr.south) .. controls +(0,-1) and +(0,1) .. node[lbl]{-\$properties\_aggregator} (ilObject.north);
  \draw[uses] (objUser.north west) .. controls +(-1,2) and +(3,-1) .. node[lbl]{\#\$user} (ilObject.east);
  \draw[uses] (dateFmt.south) .. controls +(0,-2) and +(0,2) .. node[lbl]{\#\$date\_format\_factory} (objUser.north east);
  \draw[uses] (cronMail.south) .. controls +(0,-10) and +(0,10) .. node[lbl, pos=0.4]{-\$cron\_delete\_user\_reminder\_mail} (objUser.north west);
  \draw[uses] (objUser.west) .. controls +(-3,-1) and +(3,1) .. node[lbl]{\#\$user} (objSurvey.east);
  \draw[uses] (modeT.south) .. controls +(0,-2) and +(0,2) .. node[lbl]{\#\$feature\_config} (objSurvey.north west);
  \draw[uses] (resolver.south) .. controls +(0,-2) and +(0,2) .. node[lbl]{\#\$placeholder\_resolver} (objSurvey.north);
  \draw[uses] (partT.south) .. controls +(0,-2) and +(0,2) .. node[lbl]{\#\$invitation\_manager} (objSurvey.north);
  \draw[uses] (accHandler.south) .. controls +(0,-3) and +(0,3) .. node[lbl, pos=0.5]{\#\$access} (objSurvey.north east);
  \draw[uses] (ilDate.south) .. controls +(0,-10) and +(-6,0) .. node[lbl, pos=0.3]{\#\$reminder\_start\\\#\$reminder\_end} (objSurvey.west);
  \draw[uses] (ctrl.south) .. controls +(0,-30) and +(-4,0) .. node[lbl, pos=0.4]{\#\$ctrl} (printGUI.west);
  \draw[uses] (ilLanguage.south) .. controls +(0,-10) and +(0,10) .. node[lbl, pos=0.6]{\#\$lng} (printGUI.north);
  \draw[uses] (objSurvey.south west) .. controls +(-3,-1) and +(4,0) .. node[lbl]{\#\$survey} (printGUI.east);

\end{tikzpicture}
\end{document}
